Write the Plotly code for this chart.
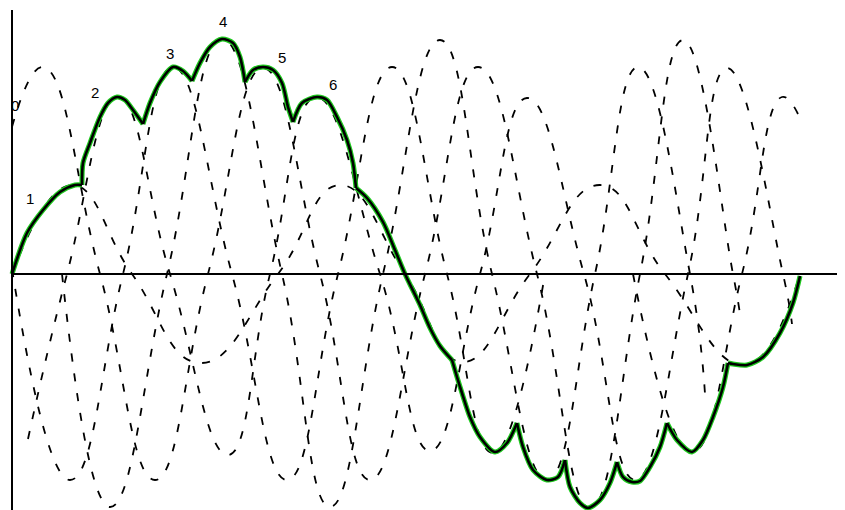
import plotly.graph_objects as go

# ---- dashed source curves: points (x, signed value; axis at 0) ----
w_x = [12, 72, 132, 200, 278, 340, 405, 462, 530, 600, 665, 745, 800]
w_y = [0, 89, 0, -89, 0, 89, 0, -88, 0, 89, 0, -91, 0]

c1_x = [12, 43, 100, 155, 208, 263, 320, 370, 425, 478, 537, 590, 640, 683, 733, 740]
c1_y = [147, 207, 0, -206, 0, 206, 0, -206, 0, 207, 0, -234, 0, 234, 0, -40]

c2_x = [12, 70, 123, 173, 232, 287, 338, 392, 447, 493, 545]
c2_y = [5, -206, 0, 207, 0, -206, 0, 207, 0, -179, 0]

c3_x = [62, 110, 167, 222, 282, 330, 383, 440, 492, 547, 595, 638, 690, 705]
c3_y = [0, -233, 0, 235, 0, -233, 0, 234, 0, -206, 0, 207, 0, -120]

c4_x = [28, 67, 118, 170, 228, 270, 316, 380, 430, 480, 527, 584, 635, 688, 727, 783, 792]
c4_y = [-165, 0, 177, 0, -181, 0, 177, 0, -177, 0, 176, 0, -206, 0, 206, 0, -50]

c5_x = [633, 692, 742, 782, 798]
c5_y = [0, -178, 0, 177, 160]

dashed = [(w_x, w_y), (c1_x, c1_y), (c2_x, c2_y), (c3_x, c3_y), (c4_x, c4_y), (c5_x, c5_y)]

# ---- green output waveform, arc by arc ----
arc_x = [
    [12, 27, 43, 60, 75, 82],
    [82, 83, 90, 100, 108, 117, 125, 133, 143],
    [143, 150, 160, 173, 183, 192],
    [192, 200, 210, 222, 233, 240, 245],
    [245, 253, 263, 273, 282, 288, 293],
    [293, 302, 317, 327, 337, 347, 353, 356],
    [356, 367, 383, 395, 405, 420, 430, 440, 452],
    [452, 457, 462, 470, 480, 495, 507, 517],
    [517, 523, 533, 547, 558, 565],
    [565, 570, 580, 588, 600, 610, 617],
    [617, 623, 632, 640, 650, 660, 667],
    [667, 677, 692, 703, 713, 723, 728],
    [728, 733, 747, 763, 780, 793, 800],
]
arc_y = [
    [0, 41, 64, 82, 89, 89],
    [89, 111, 131, 157, 171, 177, 174, 164, 150],
    [150, 171, 192, 207, 203, 193],
    [193, 211, 227, 235, 231, 217, 192],
    [192, 204, 207, 204, 191, 167, 152],
    [152, 171, 177, 174, 157, 134, 111, 86],
    [86, 76, 52, 24, 0, -31, -54, -72, -86],
    [-86, -103, -119, -143, -163, -178, -169, -149],
    [-149, -173, -196, -206, -203, -186],
    [-186, -213, -229, -234, -226, -209, -188],
    [-188, -203, -208, -207, -193, -173, -149],
    [-149, -166, -178, -166, -143, -113, -89],
    [-89, -90, -91, -83, -59, -29, -2],
]

labels = ["0", "1", "2", "3", "4", "5", "6"]
label_x = [15, 30, 95, 170, 223, 282, 333]
label_y = [169, 76, 182, 221, 253, 217, 190]

fig = go.Figure()

for xs, ys in dashed:
    fig.add_trace(go.Scatter(
        x=xs, y=ys, mode="lines",
        line=dict(color="black", width=1.8, dash="8px,12px", shape="spline", smoothing=1.3),
        hoverinfo="skip", showlegend=False))

for xs, ys in zip(arc_x, arc_y):
    fig.add_trace(go.Scatter(
        x=xs, y=ys, mode="lines",
        line=dict(color="#1ec81e", width=5, shape="spline", smoothing=0.8),
        hoverinfo="skip", showlegend=False))
for xs, ys in zip(arc_x, arc_y):
    fig.add_trace(go.Scatter(
        x=xs, y=ys, mode="lines",
        line=dict(color="black", width=2.6, shape="spline", smoothing=0.8),
        hoverinfo="skip", showlegend=False))

for t, lx, ly in zip(labels, label_x, label_y):
    fig.add_annotation(x=lx, y=ly, text=t, showarrow=False,
                       font=dict(family="Liberation Sans", size=15, color="black"))

fig.add_shape(type="line", x0=12, x1=845, y0=0, y1=0, line=dict(color="black", width=2))
fig.add_shape(type="line", x0=12, x1=12, y0=-236, y1=264, line=dict(color="black", width=2))

# the page keeps an 8px body margin, so the plot area starts at (8, 8)
fig.update_layout(
    width=837, height=502,
    margin=dict(l=0, r=0, t=0, b=0),
    paper_bgcolor="white", plot_bgcolor="white",
    xaxis=dict(range=[8, 845], visible=False, fixedrange=True),
    yaxis=dict(range=[-236, 266], visible=False, fixedrange=True),
    showlegend=False,
)

fig.write_html("out.html")
